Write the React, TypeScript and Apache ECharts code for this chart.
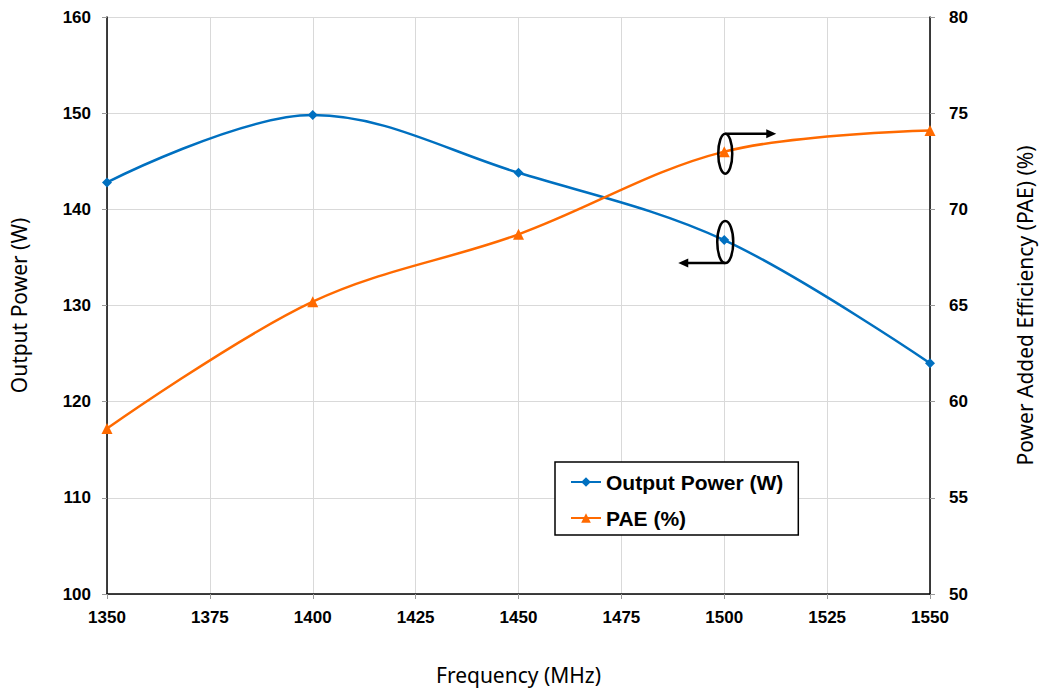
import React, { useEffect, useRef } from "react";
import * as echarts from "echarts";

const frequencies = [1350, 1400, 1450, 1500, 1550];
const outputPower = [142.8, 149.8, 143.8, 136.8, 124.0];
const pae = [58.6, 65.2, 68.7, 73.0, 74.1];
const seriesNames = ["Output Power (W)", "PAE (%)"];
const axisNames = ["Frequency (MHz)", "Output Power (W)", "Power Added Efficiency (PAE) (%)"];
const annotatedFreq = 1500;

const BLUE = "#0070C0";
const ORANGE = "#FF6A00";
const tickFont = { fontFamily: "Liberation Sans", fontWeight: "bold" as const, fontSize: 17, color: "#000" };
const nameFont = { fontFamily: "Noto Sans", fontSize: 21, color: "#000" };

export default function App() {
  const ref = useRef<HTMLDivElement>(null);
  useEffect(() => {
    if (!ref.current) return;
    document.body.style.margin = "0";
    document.body.style.overflow = "hidden";
    document.documentElement.style.overflow = "hidden";
    const chart = echarts.init(ref.current, undefined, { renderer: "svg" });
    const option: any = {
      animation: false,
      backgroundColor: "#fff",
      grid: { left: 106, width: 830, top: 17, height: 578, containLabel: false },
      legend: {
        orient: "vertical",
        left: 555,
        top: 462,
        backgroundColor: "#fff",
        borderColor: "#000",
        borderWidth: 1.5,
        borderRadius: 0,
        padding: [9, 15, 6, 15],
        itemWidth: 30,
        itemHeight: 12,
        itemGap: 14,
        textStyle: { fontFamily: "Liberation Sans", fontWeight: "bold", fontSize: 21, color: "#000", lineHeight: 22 },
        data: seriesNames,
      },
      xAxis: {
        type: "value",
        min: 1350,
        max: 1550,
        interval: 25,
        name: axisNames[0],
        nameLocation: "middle",
        nameGap: 70,
        nameTextStyle: nameFont,
        axisLine: { show: true, lineStyle: { color: "#000", width: 1.5 } },
        axisTick: { show: true, length: 5, lineStyle: { color: "#999" } },
        axisLabel: { ...tickFont, margin: 15, formatter: (v: number) => String(v) },
        splitLine: { show: true, lineStyle: { color: "#d9d9d9", width: 1 } },
      },
      yAxis: [
        {
          type: "value",
          min: 100,
          max: 160,
          interval: 10,
          name: axisNames[1],
          nameLocation: "middle",
          nameGap: 78,
          nameTextStyle: nameFont,
          axisLine: { show: true, lineStyle: { color: "#000", width: 1.5 } },
          axisTick: { show: true, length: 5, lineStyle: { color: "#999" } },
          axisLabel: { ...tickFont, margin: 16 },
          splitLine: { show: true, lineStyle: { color: "#d9d9d9", width: 1 } },
        },
        {
          type: "value",
          min: 50,
          max: 80,
          interval: 5,
          position: "right",
          name: axisNames[2],
          nameLocation: "middle",
          nameGap: 84,
          nameRotate: 90,
          nameTextStyle: nameFont,
          axisLine: { show: true, lineStyle: { color: "#000", width: 1.5 } },
          axisTick: { show: true, length: 5, lineStyle: { color: "#999" } },
          axisLabel: { ...tickFont, margin: 19 },
          splitLine: { show: false },
        },
      ],
      series: [
        {
          name: seriesNames[0],
          type: "line",
          yAxisIndex: 0,
          smooth: 0.35,
          data: frequencies.map((f, i) => [f, outputPower[i]]),
          symbol: "diamond",
          symbolSize: 10,
          lineStyle: { color: BLUE, width: 2.5 },
          itemStyle: { color: BLUE },
          z: 3,
        },
        {
          name: seriesNames[1],
          type: "line",
          yAxisIndex: 1,
          smooth: 0.35,
          data: frequencies.map((f, i) => [f, pae[i]]),
          symbol: "triangle",
          symbolSize: 11,
          lineStyle: { color: ORANGE, width: 2.5 },
          itemStyle: { color: ORANGE },
          z: 3,
        },
      ],
    };
    chart.setOption(option);

    const pIdx = frequencies.indexOf(annotatedFreq);
    const pPae = chart.convertToPixel({ xAxisIndex: 0, yAxisIndex: 1 } as any, [annotatedFreq, pae[pIdx]]) as number[];
    const pPow = chart.convertToPixel({ xAxisIndex: 0, yAxisIndex: 0 } as any, [annotatedFreq, outputPower[pIdx]]) as number[];
    const stroke = { stroke: "#000", lineWidth: 2.5, fill: "none" };
    const c1 = [pPae[0] + 1, pPae[1] + 2];
    const c2 = [pPow[0] + 1, pPow[1] + 2];
    chart.setOption({
      graphic: [
        { type: "ellipse", shape: { cx: c1[0], cy: c1[1], rx: 7, ry: 20 }, style: stroke, z: 10 },
        { type: "line", shape: { x1: c1[0], y1: c1[1] - 20, x2: c1[0] + 44, y2: c1[1] - 20 }, style: { stroke: "#000", lineWidth: 2.5 }, z: 10 },
        {
          type: "polygon",
          shape: { points: [[c1[0] + 41, c1[1] - 24.5], [c1[0] + 51, c1[1] - 20], [c1[0] + 41, c1[1] - 15.5]] },
          style: { fill: "#000" },
          z: 10,
        },
        { type: "ellipse", shape: { cx: c2[0], cy: c2[1], rx: 8, ry: 21 }, style: stroke, z: 10 },
        { type: "line", shape: { x1: c2[0], y1: c2[1] + 21, x2: c2[0] - 40, y2: c2[1] + 21 }, style: { stroke: "#000", lineWidth: 2.5 }, z: 10 },
        {
          type: "polygon",
          shape: { points: [[c2[0] - 37, c2[1] + 16.5], [c2[0] - 47, c2[1] + 21], [c2[0] - 37, c2[1] + 25.5]] },
          style: { fill: "#000" },
          z: 10,
        },
      ],
    });
    return () => chart.dispose();
  }, []);
  return (
    <div style={{ position: "fixed", left: 0, top: 0, width: 1043, height: 690, overflow: "hidden" }}>
      <div ref={ref} style={{ width: 1043, height: 690 }} />
    </div>
  );
}
